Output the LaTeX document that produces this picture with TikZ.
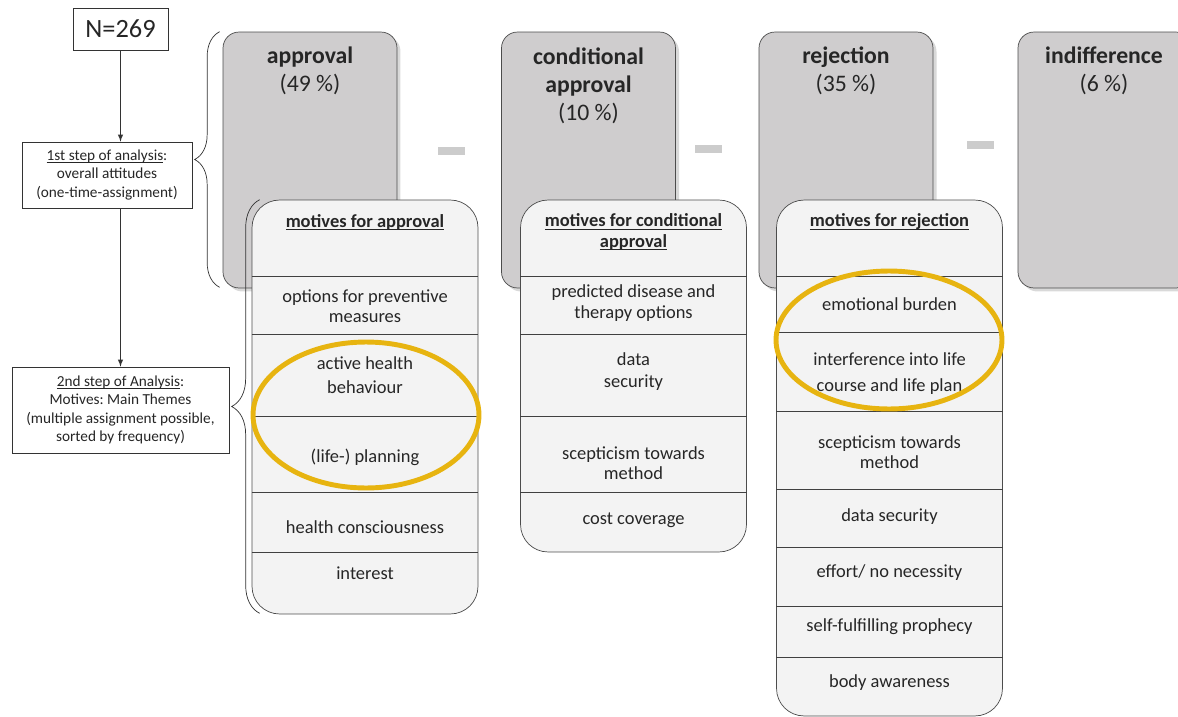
\documentclass[tikz,border=0pt]{standalone}
\usepackage{fontspec}
\setmainfont{Carlito}
\usepackage{xcolor}
\usetikzlibrary{arrows,shadows,decorations.pathreplacing,positioning}
\definecolor{boxgray}{RGB}{207,205,206}
\definecolor{rowfill}{RGB}{243,243,243}
\definecolor{ringgold}{RGB}{231,180,16}
\definecolor{ink}{RGB}{38,38,38}
\newcommand\ulined[1]{\setbox0\hbox{#1}\rlap{\rule[-1.4pt]{\wd0}{0.45pt}}\box0}
\frenchspacing
\tikzset{font={\fontsize{10.5pt}{11.5}\selectfont},text=ink}

\begin{document}
\begin{tikzpicture}[x=0.02cm,y=-0.02cm,>=latex,
attitude/.style={draw=black!70,fill=boxgray,rounded corners=0.32cm,inner sep=0pt,
  minimum width=3.48cm,minimum height=5.12cm,
  drop shadow={shadow xshift=2pt,shadow yshift=-2pt,opacity=.3}},
motives/.style={draw=black!70,fill=rowfill,rounded corners=0.55cm,inner sep=0pt,minimum width=4.52cm},
stepbox/.style={draw=black!80,fill=white,align=center,inner sep=1pt,font={\fontsize{8.7pt}{10.4}\selectfont}},
title/.style={align=center,font={\fontsize{13.5pt}{15.9}\selectfont}},
motive/.style={align=center},
gapmark/.style={fill=black!20,inner sep=0pt,minimum width=0.54cm,minimum height=0.16cm},
ring/.style={draw=ringgold,line width=2.8pt},
bracket/.style={draw=black!80,decorate}
]
\useasboundingbox (0,0) rectangle (1178,717);

% left column
\node[stepbox,minimum width=1.9cm,minimum height=0.84cm,font={\fontsize{15pt}{18}\selectfont}] (n) at (120.5,29) {N=269};
\node[stepbox,minimum width=3.4cm,minimum height=1.32cm] (s1) at (107,175) {\ulined{1st step of analysis}:\\overall attitudes\\(one-time-assignment)};
\node[stepbox,minimum width=4.34cm,minimum height=1.72cm] (s2) at (120.5,410) {\ulined{2nd step of Analysis}:\\Motives: Main Themes\\(multiple assignment possible,\\sorted by frequency)};
\draw[->,black!80] (n) -- (n |- s1.north);
\draw[->,black!80] (s1.south -| n) -- (s2);

% overall attitudes
\node[attitude] (appr) at (310,160) {};
\node[attitude] (cond) at (588.5,160) {};
\node[attitude] (rej) at (846,160) {};
\node[attitude] (indiff) at (1105,160) {};
\node[title] (appr-t) at (310,71) {\textbf{approval}\\(49 \%)};
\node[title] (cond-t) at (588.5,85.5) {\textbf{conditional}\\\textbf{approval}\\(10 \%)};
\node[title] (rej-t) at (846,71) {\textbf{rejection}\\(35 \%)};
\node[title] (indiff-t) at (1104,71) {\textbf{indifference}\\(6 \%)};
\node[gapmark] (g1) at (451.5,151) {};
\node[gapmark] (g2) at (708,148.5) {};
\node[gapmark] (g3) at (980.5,145) {};

% motives
\node[motives,minimum height=8.28cm] (mappr) at (365,407) {};
\node[motives,minimum height=7.04cm] (mcond) at (633.5,376) {};
\node[motives,minimum height=10.32cm] (mrej) at (889.5,458) {};
\foreach \y in {276,334,416,492,552}
  \draw[black!75] (mappr.west |- 0,\y) -- (mappr.east |- 0,\y);
\foreach \y in {276,334,416,492}
  \draw[black!75] (mcond.west |- 0,\y) -- (mcond.east |- 0,\y);
\foreach \y in {276,332,411,489,547,606,657}
  \draw[black!75] (mrej.west |- 0,\y) -- (mrej.east |- 0,\y);

\node[motive] (ma0) at (365,222) {\textbf{\ulined{motives for approval}}};
\node[motive] (ma1) at (365,306.5) {options for preventive\\measures};
\node[motive] (ma2) at (365,375) {active health\\[2pt]behaviour};
\node[motive] (ma3) at (365,457) {(life-) planning};
\node[motive] (ma4) at (365,527) {health consciousness};
\node[motive] (ma5) at (365,573) {interest};

\node[motive] (mc0) at (633.5,232) {\textbf{\ulined{motives for conditional}}\\\textbf{\ulined{approval}}};
\node[motive] (mc1) at (633.5,303) {predicted disease and\\therapy options};
\node[motive] (mc2) at (633.5,371.5) {data\\[1.5pt]security};
\node[motive] (mc3) at (633.5,463) {scepticism towards\\method};
\node[motive] (mc4) at (633.5,520) {cost coverage};

\node[motive] (mr0) at (889.5,222) {\textbf{\ulined{motives for rejection}}};
\node[motive] (mr1) at (889.5,304) {emotional burden};
\node[motive] (mr2) at (889.5,373.5) {interference into life\\[3.5pt]course and life plan};
\node[motive] (mr3) at (889.5,452) {scepticism towards\\method};
\node[motive] (mr4) at (889.5,517) {data security};
\node[motive] (mr5) at (889.5,573) {effort/ no necessity};
\node[motive] (mr6) at (889.5,627) {self-fulfilling prophecy};
\node[motive] (mr7) at (889.5,683) {body awareness};

% braces
\draw[bracket,decoration={brace,amplitude=0.5cm}] (appr.south west) ++(-3,-1) coordinate (b1s) -- (appr.north west -| b1s);
\draw[bracket,decoration={brace,amplitude=0.56cm}] (mappr.south west) ++(8,-1) coordinate (b2s) -- (mappr.north west -| b2s);

% highlights
\draw[ring] (366,415) ellipse [x radius=2.26cm,y radius=1.46cm];
\draw[ring] (889,340) ellipse [x radius=2.26cm,y radius=1.38cm];
\end{tikzpicture}
\end{document}
